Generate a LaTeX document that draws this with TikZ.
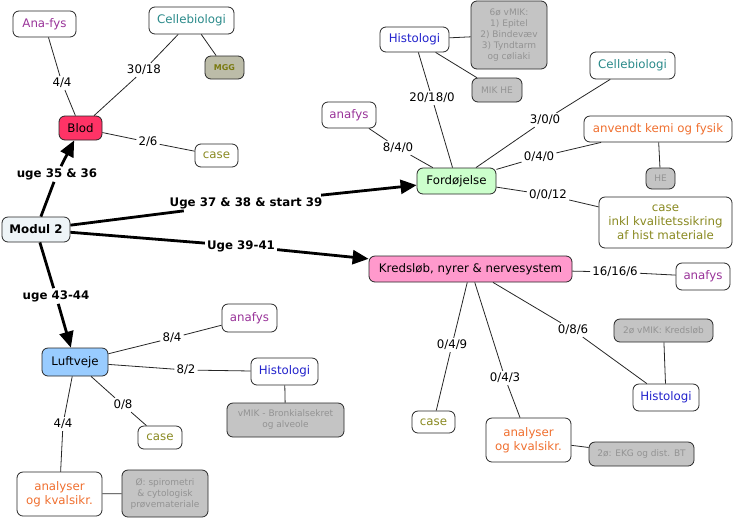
\documentclass[tikz,border=0pt]{standalone}
\usepackage{fontspec}
\setmainfont{DejaVu Sans}
\usetikzlibrary{arrows.meta}
\definecolor{cpurple}{HTML}{993399}
\definecolor{cteal}{HTML}{2A8A8A}
\definecolor{cblue}{HTML}{2222CC}
\definecolor{corange}{HTML}{F07030}
\definecolor{colive}{HTML}{8A8A22}
\definecolor{cgraytext}{HTML}{939393}
\definecolor{cgrayfill}{HTML}{C4C4C4}
\definecolor{cmggfill}{HTML}{BCBCA8}
\definecolor{cmggtext}{HTML}{7A7A10}
\definecolor{cblod}{HTML}{FF3366}
\definecolor{cford}{HTML}{CCFFCC}
\definecolor{ckreds}{HTML}{FF99CC}
\definecolor{cluft}{HTML}{99CCFF}
\definecolor{cmodul}{HTML}{EEF4F7}
\begin{document}
\begin{tikzpicture}[x=1pt,y=-1pt,
  concept/.style={draw=black!85, line width=0.8pt, rounded corners=6pt, fill=white,
    inner sep=0pt, align=center, font=\fontsize{11.8}{13.8}\selectfont},
  graybox/.style={concept, fill=cgrayfill, text=cgraytext, font=\fontsize{9}{11}\selectfont},
  lbl/.style={inner sep=2pt, font=\fontsize{11.8}{13.8}\selectfont},
  blbl/.style={inner sep=2pt, font=\fontsize{11.8}{13.8}\selectfont\bfseries},
  link/.style={draw=black!85, line width=0.8pt},
  bigline/.style={draw=black, line width=2.8pt},
  bigarrow/.style={draw=black, line width=2.8pt, -{Triangle[length=16pt,width=14pt]}}]
\useasboundingbox (0,0) rectangle (735,520);

% concepts
\node[concept, minimum width=63, minimum height=26, text=cpurple] (anafysA) at (44.5,24) {Ana-fys};
\node[concept, minimum width=85, minimum height=27, text=cteal] (cellA) at (191.5,20.5) {Cellebiologi};
\node[concept, minimum width=39, minimum height=23, fill=cmggfill, text=cmggtext, font=\fontsize{8}{10}\selectfont\bfseries] (mgg) at (224.5,67.5) {MGG};
\node[concept, minimum width=43, minimum height=24, fill=cblod] (blod) at (80.5,128) {Blod};
\node[concept, minimum width=43, minimum height=23, text=colive] (caseA) at (216.5,155.5) {case};
\node[concept, minimum width=68, minimum height=25, fill=cmodul, font=\fontsize{11.8}{13.8}\selectfont\bfseries] (modul) at (36,229.5) {Modul 2};

\node[concept, minimum width=69, minimum height=25, text=cblue] (histB) at (414.5,39.5) {Histologi};
\node[graybox, minimum width=76, minimum height=68] (vmikB) at (509,35) {6ø vMIK:\\1) Epitel\\2) Bindevæv\\3) Tyndtarm\\og cøliaki};
\node[graybox, minimum width=50, minimum height=24] (mikhe) at (497,90) {MIK HE};
\node[concept, minimum width=85, minimum height=27, text=cteal] (cellB) at (632.5,65.5) {Cellebiologi};
\node[concept, minimum width=54, minimum height=26, text=cpurple] (anafysB) at (349,115) {anafys};
\node[concept, minimum width=148, minimum height=26, text=corange] (anvendt) at (658,129) {anvendt kemi og fysik};
\node[graybox, minimum width=29, minimum height=21] (he) at (660.5,178.5) {HE};
\node[concept, minimum width=79, minimum height=26, fill=cford] (ford) at (456.5,181) {Fordøjelse};
\node[concept, minimum width=133, minimum height=51, text=colive] (caseB) at (665.5,222.5) {case\\inkl kvalitetssikring\\af hist materiale};

\node[concept, minimum width=203, minimum height=26, fill=ckreds] (kreds) at (470.5,269) {Kredsløb, nyrer \& nervesystem};
\node[concept, minimum width=54, minimum height=27, text=cpurple] (anafysC) at (703,276.5) {anafys};
\node[graybox, minimum width=99, minimum height=23] (vmikC) at (663.5,330.5) {2ø vMIK: Kredsløb};
\node[concept, minimum width=66, minimum height=27, text=cblue] (histC) at (666,397.5) {Histologi};
\node[concept, minimum width=43, minimum height=22, text=colive] (caseC) at (433.5,422) {case};
\node[concept, minimum width=85, minimum height=44, text=corange] (analC) at (528.5,440) {analyser\\og kvalsikr.};
\node[graybox, minimum width=105, minimum height=24] (ekg) at (641.5,454) {2ø: EKG og dist. BT};

\node[concept, minimum width=66, minimum height=28, fill=cluft] (luft) at (75,362) {Luftveje};
\node[concept, minimum width=55, minimum height=28, text=cpurple] (anafysD) at (249.5,318) {anafys};
\node[concept, minimum width=67, minimum height=27, text=cblue] (histD) at (284.5,371.5) {Histologi};
\node[graybox, minimum width=117, minimum height=34] (bronk) at (285.5,420) {vMIK - Bronkialsekret\\og alveole};
\node[concept, minimum width=44, minimum height=23, text=colive] (caseD) at (160,437.5) {case};
\node[concept, minimum width=85, minimum height=44, text=corange] (analD) at (59.5,494) {analyser\\og kvalsikr.};
\node[graybox, minimum width=86, minimum height=47] (spiro) at (165,493.5) {Ø: spirometri\\\& cytologisk\\prøvemateriale};

% linking phrases
\node[lbl] (l1) at (62,83) {4/4};
\node[lbl] (l2) at (144,70) {30/18};
\node[lbl] (l3) at (148,142) {2/6};
\node[blbl] (a1) at (57,174) {uge 35 \& 36};
\node[blbl] (a2) at (246,203) {Uge 37 \& 38 \& start 39};
\node[blbl] (a3) at (241,246) {Uge 39-41};
\node[blbl] (a4) at (56,296) {uge 43-44};
\node[lbl] (f1) at (398,148) {8/4/0};
\node[lbl] (f2) at (432,98) {20/18/0};
\node[lbl] (f3) at (545,120) {3/0/0};
\node[lbl] (f4) at (539,157) {0/4/0};
\node[lbl] (f5) at (548,195) {0/0/12};
\node[lbl] (k1) at (615,272) {16/16/6};
\node[lbl] (k2) at (452,345) {0/4/9};
\node[lbl] (k3) at (505,378) {0/4/3};
\node[lbl] (k4) at (573,330) {0/8/6};
\node[lbl] (u1) at (172,338) {8/4};
\node[lbl] (u2) at (186,370) {8/2};
\node[lbl] (u3) at (123,405) {0/8};
\node[lbl] (u4) at (63,424) {4/4};

% plain links
\draw[link] (cellA) -- (mgg);
\draw[link] (histB) -- (vmikB);
\draw[link] (histB) -- (mikhe);
\draw[link] (anvendt) -- (he);
\draw[link] (histC) -- (vmikC);
\draw[link] (analC) -- (ekg);
\draw[link] (histD) -- (bronk);
\draw[link] (analD) -- (spiro);

% labelled links
\draw[link] (anafysA) -- (l1); \draw[link] (l1) -- (blod);
\draw[link] (cellA) -- (l2); \draw[link] (l2) -- (blod);
\draw[link] (blod) -- (l3); \draw[link] (l3) -- (caseA);
\draw[link] (anafysB) -- (f1); \draw[link] (f1) -- (ford);
\draw[link] (histB) -- (f2); \draw[link] (f2) -- (ford);
\draw[link] (cellB) -- (f3); \draw[link] (f3) -- (ford);
\draw[link] (anvendt) -- (f4); \draw[link] (f4) -- (ford);
\draw[link] (ford) -- (f5); \draw[link] (f5) -- (caseB);
\draw[link] (kreds) -- (k1); \draw[link] (k1) -- (anafysC);
\draw[link] (kreds) -- (k2); \draw[link] (k2) -- (caseC);
\draw[link] (kreds) -- (k3); \draw[link] (k3) -- (analC);
\draw[link] (kreds) -- (k4); \draw[link] (k4) -- (histC);
\draw[link] (luft) -- (u1); \draw[link] (u1) -- (anafysD);
\draw[link] (luft) -- (u2); \draw[link] (u2) -- (histD);
\draw[link] (luft) -- (u3); \draw[link] (u3) -- (caseD);
\draw[link] (luft) -- (u4); \draw[link] (u4) -- (analD);

% big arrows
\draw[bigline] (modul) -- (a1); \draw[bigarrow] (a1) -- (blod);
\draw[bigline] (modul) -- (a2); \draw[bigarrow] (a2) -- (ford);
\draw[bigline] (modul) -- (a3); \draw[bigarrow] (a3) -- (kreds);
\draw[bigline] (modul) -- (a4); \draw[bigarrow] (a4) -- (luft);
\end{tikzpicture}
\end{document}
